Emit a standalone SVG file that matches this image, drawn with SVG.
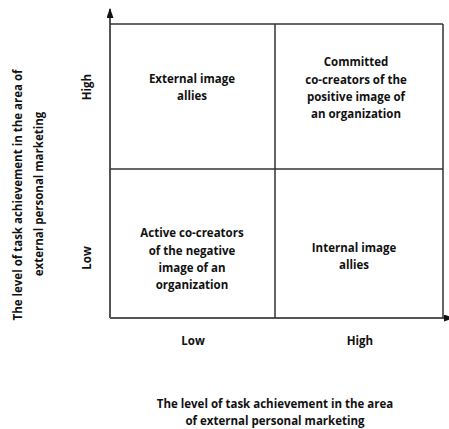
<svg xmlns="http://www.w3.org/2000/svg" width="449" height="429" viewBox="0 0 449 429">
<defs>
<marker id="ah" viewBox="0 0 10 10" refX="9" refY="5" markerWidth="10" markerHeight="7" markerUnits="userSpaceOnUse" orient="auto" preserveAspectRatio="none">
<path d="M0,0 L10,5 L0,10 z" fill="#111"/>
</marker>
<style>
text{font-family:"Open Sans","Liberation Sans",sans-serif;font-weight:700;font-size:11.5px;fill:#111;text-anchor:middle}
.ax{stroke:#555;stroke-width:2;fill:none}
.ln{stroke:#333;stroke-width:1.5;fill:none}
</style>
</defs>
<rect width="449" height="429" fill="#fff"/>
<g id="connectors">
<line class="ax" x1="110" y1="318" x2="110" y2="9" marker-end="url(#ah)"/>
<line class="ax" x1="110" y1="318" x2="453" y2="318" marker-end="url(#ah)"/>
<line class="ln" x1="110" y1="24" x2="443" y2="24"/>
<line class="ln" x1="443" y1="24" x2="443" y2="318"/>
<line class="ln" x1="275" y1="24" x2="275" y2="318"/>
<line class="ln" x1="110" y1="169" x2="443" y2="169"/>
</g>
<g id="q-external">
<text x="192" y="83">External image</text>
<text x="192" y="100">allies</text>
</g>
<g id="q-committed">
<text x="356" y="66">Committed</text>
<text x="356" y="84">co-creators of the</text>
<text x="356" y="101">positive image of</text>
<text x="356" y="118">an organization</text>
</g>
<g id="q-active">
<text x="192" y="237">Active co-creators</text>
<text x="192" y="255">of the negative</text>
<text x="192" y="272">image of an</text>
<text x="192" y="289">organization</text>
</g>
<g id="q-internal">
<text x="354" y="252">Internal image</text>
<text x="354" y="269">allies</text>
</g>
<g id="labels">
<text transform="translate(91,87) rotate(-90)">High</text>
<text transform="translate(91,258) rotate(-90)">Low</text>
<text x="193" y="345">Low</text>
<text x="360" y="345">High</text>
<text x="275" y="408">The level of task achievement in the area</text>
<text x="275" y="425">of external personal marketing</text>
<text transform="translate(22,195) rotate(-90)">The level of task achievement in the area of</text>
<text transform="translate(43,194) rotate(-90)">external personal marketing</text>
</g>
</svg>
